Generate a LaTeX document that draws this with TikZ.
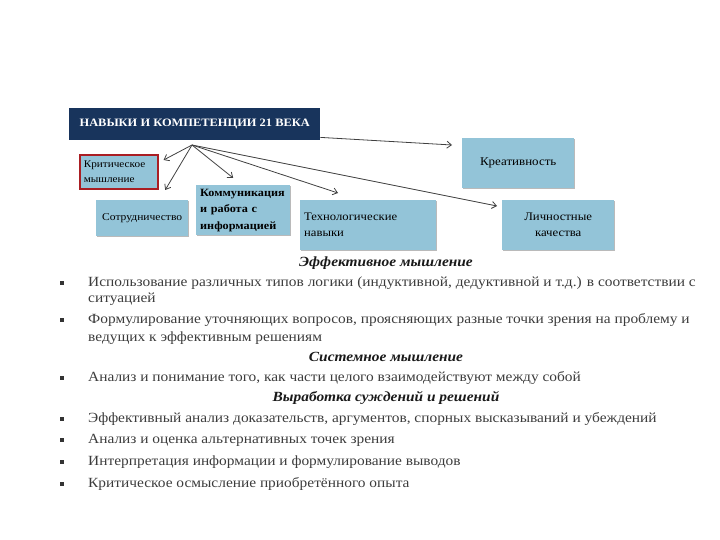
\documentclass[tikz,border=0pt]{standalone}
\usepackage{fontspec}
\setmainfont[FakeStretch=1.1]{Liberation Serif}
\usepackage{tikz}
\usetikzlibrary{arrows.meta, shadows}

\definecolor{navy}{RGB}{24,52,92}
\definecolor{skyfill}{RGB}{147,196,216}
\definecolor{critred}{RGB}{170,30,35}
\definecolor{bodygray}{RGB}{60,60,60}

\begin{document}
\begin{tikzpicture}[
    x=1pt, y=-1pt,
    skill/.style = {
        anchor=north west, fill=skyfill, inner xsep=4pt, inner ysep=2pt,
        drop shadow={shadow xshift=1.2pt, shadow yshift=-1.2pt, fill=black!45, opacity=0.6}
    },
    fan/.style = {-{Straight Barb[length=4.5pt, width=7pt]}, draw=black!75, line width=0.8pt},
    head/.style = {font=\bfseries\itshape\fontsize{14}{16}\selectfont, text=black!90},
    item/.style = {anchor=west, inner sep=0pt, font=\fontsize{14}{16}\selectfont, text=bodygray},
    dot/.style = {fill=black!80, minimum size=3.5pt, inner sep=0pt}
  ]
    \useasboundingbox (0,0) rectangle (720,540);

    % верхний блок
    \node[anchor=north west, fill=navy, text=white, minimum width=251pt, minimum height=32pt,
          font=\bfseries\fontsize{11.3}{13}\selectfont] (title) at (69,108) {НАВЫКИ И КОМПЕТЕНЦИИ 21 ВЕКА};
    \coordinate (hub) at (192,145);

    % навыки
    \node[skill, draw=critred, line width=1.6pt, minimum width=78pt, minimum height=34pt,
          text width=70pt, align=left, font=\fontsize{10.2}{15}\selectfont] (krit) at (79,154) {Критическое\\мышление};
    \node[skill, minimum width=92pt, minimum height=36pt, text width=84pt, align=center,
          font=\fontsize{10.5}{12}\selectfont] (sotr) at (96,200) {Сотрудничество};
    \node[skill, minimum width=92pt, minimum height=50pt, text width=86pt, align=left,
          font=\bfseries\fontsize{11.1}{16.5}\selectfont] (komm) at (196,185) {Коммуникация\\и работа с\\информацией};
    \node[skill, minimum width=136pt, minimum height=50pt, text width=128pt, align=left,
          font=\fontsize{11.5}{16}\selectfont] (tech) at (300,200) {Технологические\\навыки};
    \node[skill, minimum width=112pt, minimum height=50pt, text width=104pt, align=center,
          font=\fontsize{11.8}{14}\selectfont] (krea) at (462,138) {Креативность};
    \node[skill, minimum width=112pt, minimum height=50pt, text width=104pt, align=center,
          font=\fontsize{11.6}{16}\selectfont] (lich) at (502,200) {Личностные\\качества};

    % стрелки
    \draw[fan] (hub) -- ([xshift=5pt, yshift=-6pt]krit.north east);
    \draw[fan] (hub) -- ([xshift=23pt, yshift=10pt]sotr.north);
    \draw[fan] (hub) -- ([xshift=-10pt, yshift=7pt]komm.north);
    \draw[fan] (hub) -- ([xshift=38pt, yshift=7pt]tech.north west);
    \draw[fan] (hub) -- ([xshift=-5pt, yshift=-6pt]lich.north west);
    \draw[fan] ([yshift=3pt]title.south east) -- ([xshift=-10pt, yshift=-7pt]krea.north west);

    % текст
    \node[head] (h1) at (386,263) {Эффективное мышление};
    \node[dot] (b1) at (62,283) {};
    \node[item] (t1) at (88,283) {Использование различных типов логики (индуктивной, дедуктивной и т.д.) в соответствии с};
    \node[item] (t1b) at (88,299) {ситуацией};
    \node[dot] (b2) at (62,320) {};
    \node[item] (t2) at (88,320) {Формулирование уточняющих вопросов, проясняющих разные точки зрения на проблему и};
    \node[item] (t2b) at (88,338) {ведущих к эффективным решениям};
    \node[head] (h2) at (386,357) {Системное мышление};
    \node[dot] (b3) at (62,378) {};
    \node[item] (t3) at (88,378) {Анализ и понимание того, как части целого взаимодействуют между собой};
    \node[head] (h3) at (386,398) {Выработка суждений и решений};
    \node[dot] (b4) at (62,419) {};
    \node[item] (t4) at (88,419) {Эффективный анализ доказательств, аргументов, спорных высказываний и убеждений};
    \node[dot] (b5) at (62,440) {};
    \node[item] (t5) at (88,440) {Анализ и оценка альтернативных точек зрения};
    \node[dot] (b6) at (62,462) {};
    \node[item] (t6) at (88,462) {Интерпретация информации и формулирование выводов};
    \node[dot] (b7) at (62,484) {};
    \node[item] (t7) at (88,484) {Критическое осмысление приобретённого опыта};
\end{tikzpicture}
\end{document}
